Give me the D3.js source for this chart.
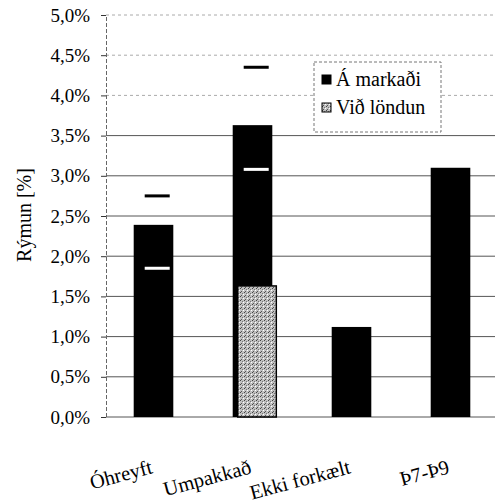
<!DOCTYPE html>
<html>
<head>
<meta charset="utf-8">
<script src="https://cdn.jsdelivr.net/npm/d3@7"></script>
</head>
<body style="margin:0">
<div id="chart"></div>
<script>
// values (percent)
var categories = ["Óhreyft", "Umpakkað", "Ekki forkælt", "Þ7-Þ9"];
var aMarkadi = [2.39, 3.63, 1.12, 3.10];
var vidLondun = [null, 1.63, null, null];
var highMarks = [2.75, 4.35, null, null];   // black dashes
var lowMarks = [1.85, 3.08, null, null];    // white dashes
var yTicks = [0, 0.5, 1, 1.5, 2, 2.5, 3, 3.5, 4, 4.5, 5];
var legendLabels = ["Á markaði", "Við löndun"];

var W = 495, H = 500;
var margin = { top: 15, right: -5, bottom: 82, left: 106 };
var FONT = "Liberation Serif";

var svg = d3.select("#chart").append("svg")
    .attr("width", W)
    .attr("height", H);

// speckled grey fill
var defs = svg.append("defs");
var pat = defs.append("pattern")
    .attr("id", "speckle")
    .attr("width", 4).attr("height", 4)
    .attr("patternUnits", "userSpaceOnUse");
pat.append("rect").attr("width", 4).attr("height", 4).attr("fill", "#c0c0c0");
pat.append("rect").attr("x", 0).attr("y", 0).attr("width", 1).attr("height", 1).attr("fill", "#444");
pat.append("rect").attr("x", 2).attr("y", 1).attr("width", 1).attr("height", 1).attr("fill", "#777");
pat.append("rect").attr("x", 1).attr("y", 3).attr("width", 1).attr("height", 1).attr("fill", "#555");
pat.append("rect").attr("x", 3).attr("y", 2).attr("width", 1).attr("height", 1).attr("fill", "#fff");

var y = d3.scaleLinear()
    .domain([0, 5])
    .range([H - margin.bottom - 1, margin.top]);

var x = d3.scaleBand()
    .domain(categories)
    .range([margin.left - 2, W - margin.right])
    .paddingInner(0.6)
    .paddingOuter(0.3);

var fmt = d3.formatLocale({ decimal: ",", thousands: ".", grouping: [3], currency: ["", ""] }).format(".1f");

// gridlines
svg.append("g")
  .selectAll("line")
  .data(yTicks.filter(function(d) { return d > 0; }))
  .enter().append("line")
    .attr("x1", margin.left)
    .attr("x2", W)
    .attr("y1", function(d) { return y(d); })
    .attr("y2", function(d) { return y(d); })
    .attr("stroke", function(d) { return d >= 4 ? "#aaa" : "#555"; })
    .attr("stroke-dasharray", function(d) { return d >= 4 ? "3,3" : null; })
    .attr("stroke-width", 1);

// y axis
var yAxis = svg.append("g")
    .attr("transform", "translate(" + margin.left + ",0)")
    .call(d3.axisLeft(y).tickValues(yTicks).tickSize(5).tickPadding(11)
      .tickFormat(function(d) { return fmt(d) + "%"; }));
yAxis.attr("font-family", null).attr("font-size", null);
yAxis.select(".domain").attr("stroke", "#666").attr("stroke-dasharray", "4,2");
yAxis.selectAll(".tick line").attr("stroke", "#333");
yAxis.selectAll("text")
    .attr("fill", "#000")
    .style("font-family", FONT)
    .style("font-size", "19px");

// bottom baseline
svg.append("line")
    .attr("x1", margin.left).attr("x2", W)
    .attr("y1", y(0)).attr("y2", y(0))
    .attr("stroke", "#555");

// y label
svg.append("text")
    .attr("transform", "translate(31,215) rotate(-90)")
    .attr("text-anchor", "middle")
    .style("font-family", FONT)
    .style("font-size", "20px")
    .text("Rýmun [%]");

// bars "Á markaði"
svg.append("g").selectAll("rect")
    .data(categories)
    .enter().append("rect")
    .attr("x", function(d) { return x(d); })
    .attr("y", function(d, i) { return y(aMarkadi[i]); })
    .attr("width", x.bandwidth())
    .attr("height", function(d, i) { return y(0) - y(aMarkadi[i]); })
    .attr("fill", "#000");

// bars "Við löndun"
svg.append("g").selectAll("rect")
    .data(categories.filter(function(d, i) { return vidLondun[i] != null; }))
    .enter().append("rect")
    .attr("x", function(d) { return x(d) + 5; })
    .attr("y", function(d) { return y(vidLondun[categories.indexOf(d)]); })
    .attr("width", x.bandwidth() - 1)
    .attr("height", function(d) { return y(0) - y(vidLondun[categories.indexOf(d)]); })
    .attr("fill", "url(#speckle)")
    .attr("stroke", "#000")
    .attr("stroke-width", 1.5);

// range dashes
function dashes(vals, color) {
  svg.append("g").selectAll("rect")
    .data(categories.filter(function(d, i) { return vals[i] != null; }))
    .enter().append("rect")
    .attr("x", function(d) { return x(d) + 11; })
    .attr("y", function(d) { return y(vals[categories.indexOf(d)]) - 1.5; })
    .attr("width", 25)
    .attr("height", 3)
    .attr("fill", color);
}
dashes(highMarks, "#000");
dashes(lowMarks, "#fff");

// x labels
svg.append("g").selectAll("text")
    .data(categories)
    .enter().append("text")
    .attr("transform", function(d) {
      return "translate(" + (x(d) + x.bandwidth() / 2) + ",473) rotate(-15)";
    })
    .attr("text-anchor", "end")
    .style("font-family", FONT)
    .style("font-size", "20.5px")
    .text(function(d) { return d; });

// legend
var lg = svg.append("g").attr("transform", "translate(314,62)");
lg.append("rect")
    .attr("width", 127).attr("height", 70)
    .attr("fill", "#fff")
    .attr("stroke", "#777")
    .attr("stroke-dasharray", "3,2");
lg.selectAll(".sw")
    .data(legendLabels)
    .enter().append("rect")
    .attr("x", 8)
    .attr("y", function(d, i) { return 13 + i * 28; })
    .attr("width", 9).attr("height", 9)
    .attr("fill", function(d, i) { return i === 0 ? "#000" : "url(#speckle)"; })
    .attr("stroke", "#000");
lg.selectAll(".lt")
    .data(legendLabels)
    .enter().append("text")
    .attr("x", 22)
    .attr("y", function(d, i) { return 24 + i * 28; })
    .style("font-family", FONT)
    .style("font-size", "20px")
    .text(function(d) { return d; });
</script>
</body>
</html>
